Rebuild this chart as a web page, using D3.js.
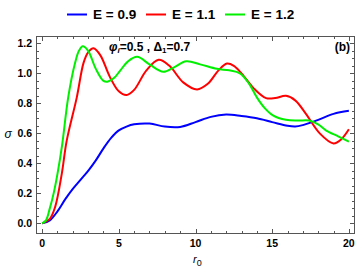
<!DOCTYPE html>
<html><head><meta charset="utf-8">
<script src="https://cdn.jsdelivr.net/npm/d3@7"></script>
<style>body{margin:0;background:#fff}svg{display:block}</style>
</head><body>
<svg id="c" width="360" height="270"></svg>
<script>
const seriesNames = ["E = 0.9", "E = 1.1", "E = 1.2"];
const seriesColors = ["#0000ff", "#ff0000", "#00f000"];
const blue = [[0,0],[0.5,0.02],[1,0.08],[1.5,0.16],[2,0.23],[2.5,0.29],[3,0.35],[3.5,0.42],[4,0.50],[4.5,0.57],[5,0.62],[5.5,0.645],[6,0.66],[7,0.665],[8,0.645],[9,0.643],[10,0.675],[11,0.71],[12,0.725],[13,0.715],[14,0.70],[15,0.675],[16,0.65],[16.5,0.645],[17,0.655],[18,0.69],[19,0.73],[20,0.75]];
const red = [[0,0],[0.5,0.03],[0.85,0.11],[1.28,0.33],[1.6,0.55],[2.26,0.84],[2.7,1.07],[3.0,1.14],[3.35,1.167],[3.8,1.12],[4.4,0.98],[5.0,0.88],[5.5,0.855],[6.0,0.89],[6.8,1.02],[7.6,1.09],[8.3,1.05],[9.2,0.94],[10.1,0.893],[10.8,0.93],[11.5,1.02],[12.05,1.065],[12.5,1.05],[13.0,1.0],[13.8,0.90],[14.6,0.835],[15.2,0.835],[15.9,0.85],[16.5,0.82],[17.2,0.73],[18.1,0.60],[19.0,0.533],[19.5,0.56],[20,0.627]];
const green = [[0,0],[0.25,0.02],[0.5,0.10],[0.75,0.2],[1,0.33],[1.3,0.52],[1.7,0.84],[2.15,1.07],[2.4,1.15],[2.65,1.18],[3,1.15],[3.5,1.03],[4,0.95],[4.3,0.945],[4.7,0.97],[5.1,1.02],[5.6,1.08],[6.2,1.11],[7,1.06],[7.9,1.01],[8.6,1.04],[9.4,1.08],[10.3,1.06],[11.4,1.03],[12.2,1.02],[12.9,1.0],[13.5,0.93],[14,0.84],[14.5,0.77],[15.05,0.72],[15.9,0.69],[16.7,0.685],[17.4,0.685],[18,0.66],[18.5,0.62],[19.3,0.58],[20,0.545]];
const xTicks = [0,5,10,15,20];
const yTicks = [0.0,0.2,0.4,0.6,0.8,1.0,1.2];

const svg = d3.select("#c");
const L=36, R=355, T=36, B=234;
const x = d3.scaleLinear().domain([-0.4,20.4]).range([L,R]);
const y = d3.scaleLinear().domain([-0.071,1.249]).range([B,T]);
const frameColor = "#555";

svg.append("rect").attr("x",L+0.5).attr("y",T+0.5).attr("width",R-L-1).attr("height",B-T-1)
  .attr("fill","none").attr("stroke",frameColor).attr("stroke-width",1);

const xMinor = d3.range(0,21,1);
const yMinor = d3.range(0,1.2501,0.05).map(v=>+v.toFixed(2));
const tg = svg.append("g").attr("stroke",frameColor).attr("stroke-width",1);
xMinor.forEach(v=>{
  const len = xTicks.includes(v)?5:3;
  const px = Math.round(x(v))+0.5;
  tg.append("line").attr("x1",px).attr("x2",px).attr("y1",B).attr("y2",B-len);
  tg.append("line").attr("x1",px).attr("x2",px).attr("y1",T).attr("y2",T+len);
});
yMinor.forEach(v=>{
  if (y(v) < T) return;
  const major = yTicks.some(t=>Math.abs(t-v)<1e-6);
  const len = major?5:3;
  const py = Math.round(y(v))+0.5;
  tg.append("line").attr("x1",L).attr("x2",L+len).attr("y1",py).attr("y2",py);
  tg.append("line").attr("x1",R).attr("x2",R-len).attr("y1",py).attr("y2",py);
});

const font = "Liberation Sans, Arial, sans-serif";
svg.append("g").selectAll("text").data(xTicks).join("text")
  .attr("x",d=>x(d)).attr("y",247).attr("text-anchor","middle")
  .attr("font-family",font).attr("font-weight","bold").attr("font-size",10.5)
  .text(d=>d);
svg.append("g").selectAll("text").data(yTicks).join("text")
  .attr("x",32).attr("y",d=>y(d)+3.7).attr("text-anchor","end")
  .attr("font-family",font).attr("font-weight","bold").attr("font-size",10.5)
  .text(d=>d.toFixed(1));

svg.append("text").attr("x",8).attr("y",138).attr("text-anchor","middle")
  .attr("font-family",font).attr("font-style","italic").attr("font-size",12).text("σ");
const xl = svg.append("text").attr("x",193).attr("y",263).attr("font-family",font).attr("font-size",11);
xl.append("tspan").attr("font-style","italic").text("r");
xl.append("tspan").attr("font-size",9).attr("dy",2.5).text("0");

const line = d3.line().x(d=>x(d[0])).y(d=>y(d[1])).curve(d3.curveCatmullRom.alpha(0.5));
svg.append("clipPath").attr("id","cp").append("rect").attr("x",L).attr("y",T).attr("width",R-L).attr("height",B-T);
[blue,red,green].forEach((s,i)=>{
  svg.append("path").datum(s).attr("d",line).attr("fill","none")
    .attr("stroke",seriesColors[i]).attr("stroke-width",2).attr("clip-path","url(#cp)");
});

const ann = svg.append("text").attr("x",109).attr("y",51).attr("font-family",font)
  .attr("font-weight","bold").attr("font-size",12);
ann.append("tspan").attr("font-style","italic").text("φ");
ann.append("tspan").attr("font-style","italic").attr("font-size",8).attr("dy",2).text("i");
ann.append("tspan").attr("dy",-2).text("=0.5 , Δ");
ann.append("tspan").attr("font-size",8).attr("dy",2).text("1");
ann.append("tspan").attr("dy",-2).text("=0.7");
svg.append("text").attr("x",350).attr("y",51).attr("text-anchor","end").attr("font-family",font)
  .attr("font-weight","bold").attr("font-size",12).text("(b)");

const legX = [67,146,225];
seriesNames.forEach((n,i)=>{
  svg.append("line").attr("x1",legX[i]).attr("x2",legX[i]+20).attr("y1",14.5).attr("y2",14.5)
    .attr("stroke",seriesColors[i]).attr("stroke-width",2);
  svg.append("text").attr("x",legX[i]+26).attr("y",19).attr("font-family",font)
    .attr("font-weight","bold").attr("font-size",13.5).text(n);
});
</script>
</body></html>
